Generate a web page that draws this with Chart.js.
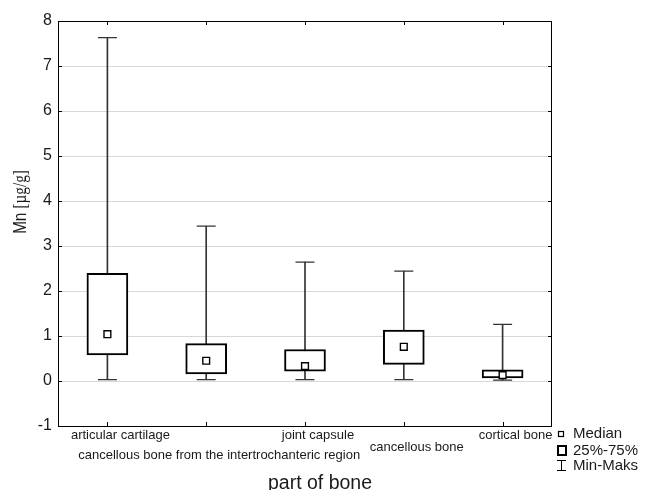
<!DOCTYPE html>
<html><head><meta charset="utf-8">
<script src="https://cdn.jsdelivr.net/npm/chart.js@4.4.0/dist/chart.umd.min.js"></script>
<style>html,body{margin:0;padding:0;background:#fff}#wrap{width:647px;height:490px;position:relative}</style>
</head><body><div id="wrap"><canvas id="c"></canvas></div>
<script>
const categories = ['articular cartilage', 'cancellous bone from the intertrochanteric region', 'joint capsule', 'cancellous bone', 'cortical bone'];
const minValues = [0.03, 0.03, 0.03, 0.03, 0.02];
const q1Values = [0.58, 0.16, 0.22, 0.37, 0.07];
const medianValues = [1.04, 0.45, 0.33, 0.76, 0.13];
const q3Values = [2.39, 0.83, 0.70, 1.13, 0.25];
const maxValues = [7.63, 3.44, 2.64, 2.44, 1.26];
const yMin = -1, yMax = 8, yStep = 1;
const yTitleMain = 'Mn ';
const yTitleUnit = '[\u00b5g/g]';
const xTitle = 'part of bone';
const legendLabels = ['Median', '25%-75%', 'Min-Maks'];

const SANS = '"Liberation Sans", Arial, sans-serif';
const SERIF = '"Liberation Serif", "Times New Roman", serif';

const decor = {
  id: 'decor',
  afterDatasetsDraw(chart) {
    const ctx = chart.ctx, a = chart.chartArea;
    const xs = chart.scales.x, ys = chart.scales.y;
    ctx.save();
    ctx.strokeStyle = '#000';
    ctx.lineWidth = 1;
    ctx.beginPath();
    xs.ticks.forEach((t, i) => {
      const px = Math.round(xs.getPixelForTick(i)) + 0.5;
      ctx.moveTo(px, a.bottom); ctx.lineTo(px, a.bottom - 4);
      ctx.moveTo(px, a.top); ctx.lineTo(px, a.top + 4);
    });
    ys.ticks.forEach((t, i) => {
      const py = Math.round(ys.getPixelForTick(i)) + 0.5;
      ctx.moveTo(a.right, py); ctx.lineTo(a.right - 4, py);
      ctx.moveTo(a.left, py); ctx.lineTo(a.left + 4, py);
    });
    ctx.stroke();
    ctx.strokeRect(Math.round(a.left) + 0.5, Math.round(a.top) + 0.5, Math.round(a.right - a.left) - 1, Math.round(a.bottom - a.top));
    ctx.restore();
  },
  afterDraw(chart) {
    const ctx = chart.ctx;
    ctx.save();
    ctx.fillStyle = '#1a1a1a';
    ctx.translate(21, 202);
    ctx.rotate(-Math.PI / 2);
    ctx.scale(0.95, 1.15);
    ctx.textBaseline = 'middle';
    ctx.textAlign = 'left';
    const f1 = '16px ' + SANS, f2 = '16px ' + SERIF;
    ctx.font = f1; const w1 = ctx.measureText(yTitleMain).width;
    ctx.font = f2; const w2 = ctx.measureText(yTitleUnit).width;
    const start = -(w1 + w2) / 2;
    ctx.font = f1; ctx.fillText(yTitleMain, start, 0);
    ctx.font = f2; ctx.fillText(yTitleUnit, start + w1, 0);
    ctx.restore();

    ctx.save();
    ctx.fillStyle = '#1a1a1a';
    ctx.font = '19.5px ' + SANS;
    ctx.textAlign = 'center';
    ctx.textBaseline = 'alphabetic';
    ctx.fillText(xTitle, 320, 489);

    ctx.font = '15px ' + SANS;
    ctx.textAlign = 'left';
    ctx.fillText(legendLabels[0], 573, 438);
    ctx.fillText(legendLabels[1], 573, 455);
    ctx.fillText(legendLabels[2], 573, 470);
    ctx.strokeStyle = '#000';
    ctx.lineWidth = 1.2;
    ctx.strokeRect(558.5, 431.5, 5, 5);
    ctx.lineWidth = 2;
    ctx.strokeRect(558, 446, 8, 9);
    ctx.lineWidth = 1;
    ctx.beginPath();
    ctx.moveTo(561.5, 460); ctx.lineTo(561.5, 471);
    ctx.moveTo(557, 460.5); ctx.lineTo(566, 460.5);
    ctx.moveTo(557, 470.5); ctx.lineTo(566, 470.5);
    ctx.stroke();
    ctx.restore();
  }
};

new Chart(document.getElementById('c'), {
  type: 'bar',
  data: {
    labels: categories,
    datasets: [
      { type: 'line', label: 'Median', data: medianValues, showLine: false, pointStyle: 'rect', pointRadius: 4.8,
        pointBackgroundColor: '#fff', pointBorderColor: '#000', pointBorderWidth: 1.4, order: 0 },
      { label: '25%-75%', data: categories.map((_, i) => [q1Values[i], q3Values[i]]), backgroundColor: '#fff',
        borderColor: '#000', borderWidth: 2, borderSkipped: false, barThickness: 41, grouped: false, order: 1 },
      { label: 'Min-Maks', data: categories.map((_, i) => [minValues[i], maxValues[i]]), backgroundColor: '#333',
        borderWidth: 0, barThickness: 1, grouped: false, order: 2 },
      { type: 'line', label: 'Min', data: minValues, showLine: false, pointStyle: 'line', pointRadius: 9.5,
        pointBorderColor: '#333', pointBorderWidth: 1.3, order: 3 },
      { type: 'line', label: 'Max', data: maxValues, showLine: false, pointStyle: 'line', pointRadius: 9.5,
        pointBorderColor: '#333', pointBorderWidth: 1.3, order: 3 }
    ]
  },
  options: {
    responsive: true, maintainAspectRatio: false, animation: false, events: [],
    layout: { padding: { left: 0, right: 95, top: 21, bottom: 0 } },
    plugins: { legend: { display: false }, tooltip: { enabled: false } },
    scales: {
      x: {
        offset: true,
        grid: { display: false, drawTicks: false },
        border: { display: false },
        ticks: {
          autoSkip: false, maxRotation: 0, minRotation: 0, padding: 2, labelOffset: 13, color: '#1a1a1a',
          font: (c) => ({ family: SANS, size: 13, lineHeight: c.index === 1 ? '18px' : (c.index === 3 ? '12.7px' : 1.2) }),
          callback: (v, i) => (i === 1 || i === 3) ? ['', categories[i]] : categories[i]
        },
        afterFit: (s) => { s.height = 64; s.paddingLeft = 0; s.paddingRight = 0; }
      },
      y: {
        min: yMin, max: yMax,
        ticks: { stepSize: yStep, padding: 6, color: '#1a1a1a', font: { family: SANS, size: 16 } },
        grid: { color: '#d8d8d8', lineWidth: 1, drawTicks: false },
        border: { display: false },
        afterFit: (s) => { s.width = 58; s.paddingTop = 0; s.paddingBottom = 0; }
      }
    }
  },
  plugins: [decor]
});
</script></body></html>
